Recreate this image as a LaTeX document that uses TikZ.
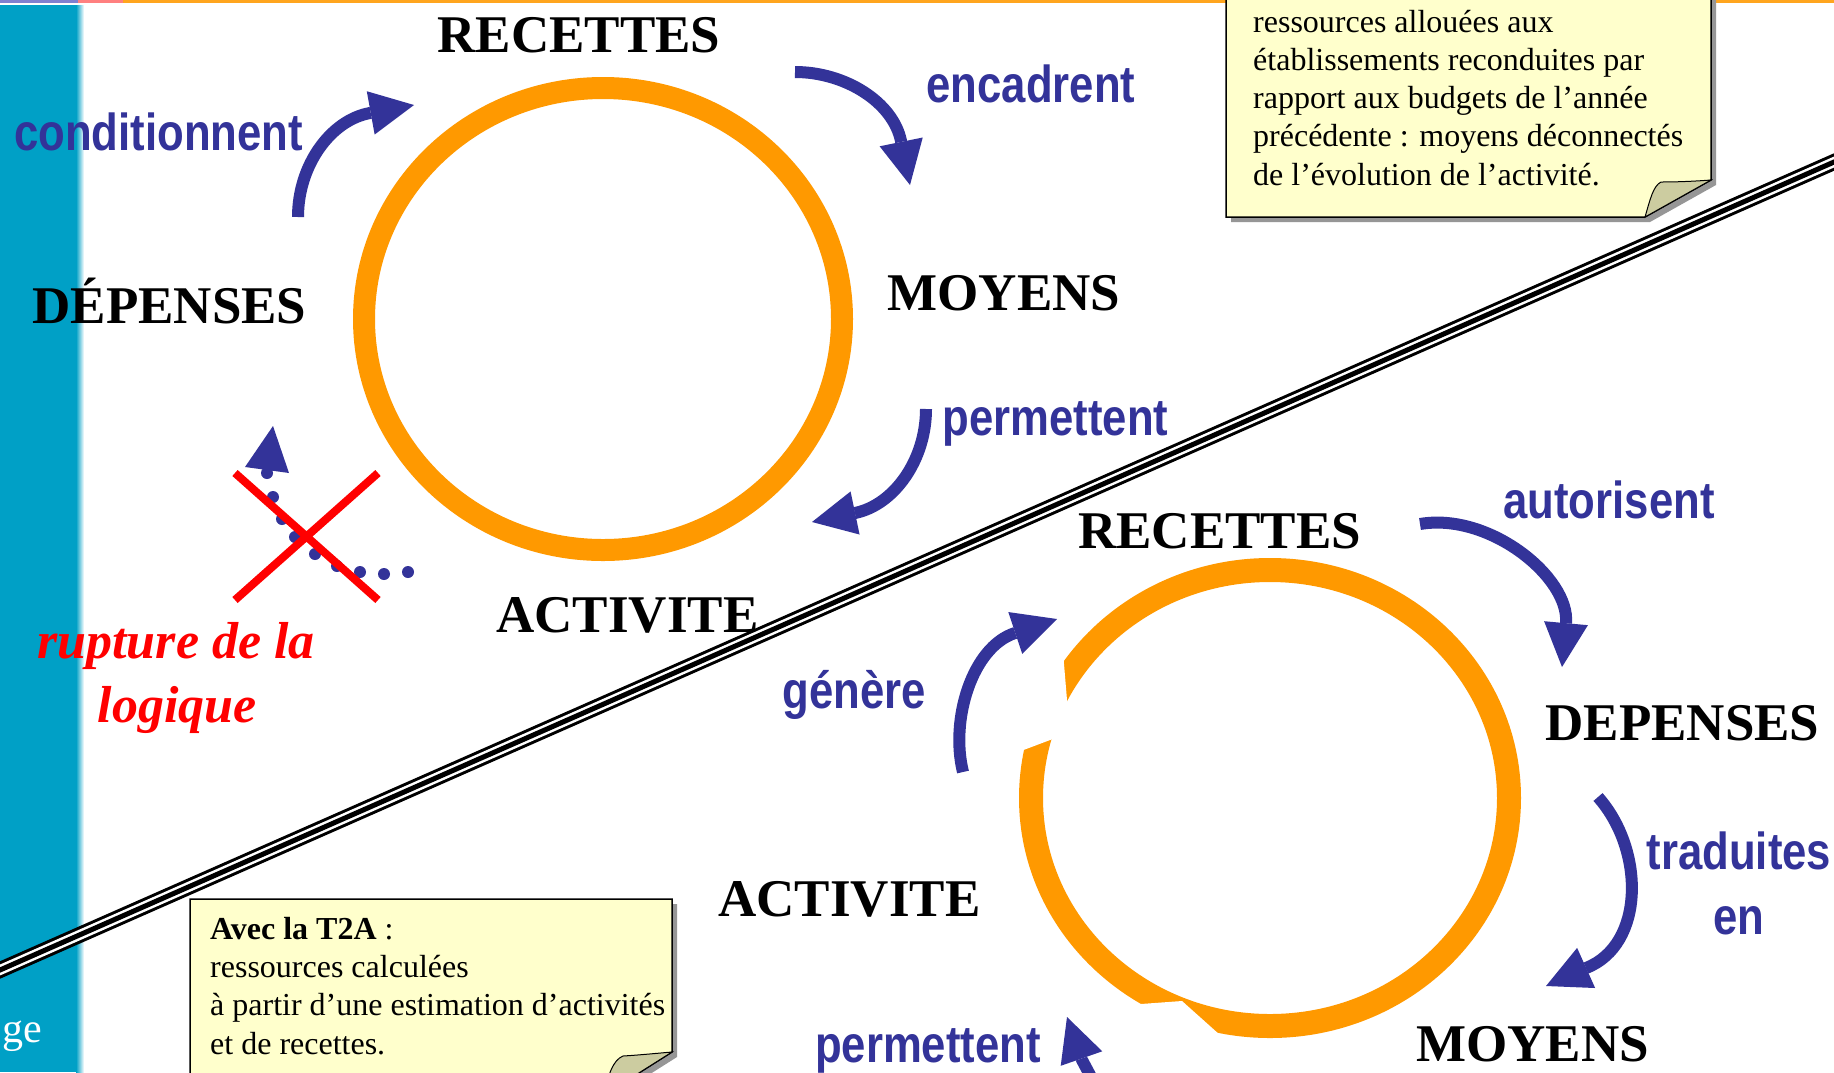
\documentclass[tikz,border=0pt]{standalone}
\usepackage{fontspec}
\setmainfont{Liberation Serif}
\setsansfont{Liberation Sans}
\usetikzlibrary{arrows.meta}
\definecolor{ringorange}{RGB}{255,153,0}
\definecolor{arrowblue}{RGB}{51,51,153}
\definecolor{barteal}{RGB}{0,160,198}
\definecolor{noteyellow}{RGB}{255,255,204}
\definecolor{flapolive}{RGB}{204,204,160}
\definecolor{shadowgray}{RGB}{150,150,150}
\definecolor{topblue}{RGB}{128,128,208}
\definecolor{topred}{RGB}{255,128,128}
\definecolor{toporange}{RGB}{255,165,30}
\newcommand{\bluesans}[1]{\scalebox{0.84}[1]{\sffamily\bfseries\fontsize{52}{60}\selectfont #1}}
\tikzset{
  keyword/.style={inner sep=0pt, anchor=base, font=\bfseries\fontsize{53}{60}\selectfont, text=black},
  verblabel/.style={inner sep=0pt, anchor=base, text=arrowblue},
  noteline/.style={inner sep=0pt, anchor=base west, font=\fontsize{32}{38}\selectfont, text=black},
  flow/.style={draw=arrowblue, line width=12pt, -{Triangle[length=44pt,width=44pt,line width=0pt]}},
  ringpath/.style={draw=ringorange},
  notebox/.style={fill=noteyellow, draw=black, line width=1.5pt, line join=miter},
  noteshadow/.style={fill=shadowgray},
  flapshape/.style={fill=flapolive, draw=black, line width=1pt},
  redtext/.style={inner sep=0pt, anchor=base, text=red, font=\bfseries\itshape\fontsize{52}{60}\selectfont},
  crossline/.style={draw=red, line width=8pt},
}
\begin{document}
\begin{tikzpicture}[x=1pt,y=-1pt]
\useasboundingbox (0,0) rectangle (1834,1072);
\clip (0,0) rectangle (1834,1072);
\fill[white] (0,0) rectangle (1834,1072);

% top strip and left bar
\fill[topblue] (0,0) rectangle (78,2.5);
\fill[topred] (78,0) rectangle (123,2.5);
\fill[toporange] (123,0) rectangle (1834,3);
\shade[left color=barteal, right color=white] (76,5) rectangle (84,1072);
\fill[barteal] (0,5) rectangle (77,1072);
\node[anchor=base west, inner sep=0pt, text=white, font=\fontsize{42}{50}\selectfont] (gefrag) at (2,1042) {ge};

% diagonal triple line
\coordinate (diagA) at (-20,978.8);
\coordinate (diagB) at (1854,153.2);
\draw[black, line width=16pt] (diagA) -- (diagB);
\draw[white, line width=10pt] (diagA) -- (diagB);
\draw[black, line width=5pt] (diagA) -- (diagB);

% rings
\draw[ringpath, line width=22pt] (603,319) ellipse [x radius=239pt, y radius=231pt];
\draw[ringpath, line width=24pt] (1270,798) ellipse [x radius=239pt, y radius=228pt];
% cuts in the lower ring
\fill[white] (1062,640) -- (995,690) -- (997,760) -- (1058,737) -- (1068,712) -- cycle;
\fill[white] (1141,1004) -- (1182,1001) -- (1220,1035) -- (1222,1052) -- (1141,1022) -- cycle;

% notes
\fill[noteshadow] (1231,-10) -- (1716,-10) -- (1716,185) -- (1650,222) -- (1231,222) -- cycle;
\draw[notebox] (1226,-10) -- (1711,-10) -- (1711,180) -- (1645,217) -- (1226,217) -- cycle;
\draw[flapshape] (1645,217) .. controls (1650,200) and (1653,186) .. (1661,182) .. controls (1680,182) and (1698,181) .. (1711,180) -- cycle;
\node[noteline] (n1a) at (1253,32) {ressources allouées aux};
\node[noteline] (n1b) at (1253,70.3) {établissements reconduites par};
\node[noteline] (n1c) at (1253,108.6) {rapport aux budgets de l’année};
\node[noteline] (n1d) at (1253,146.9) {précédente : moyens déconnectés};
\node[noteline] (n1e) at (1253,185.2) {de l’évolution de l’activité.};

\fill[noteshadow] (195,904) -- (677,904) -- (677,1057) -- (609,1100) -- (195,1100) -- cycle;
\draw[notebox] (190,899) -- (672,899) -- (672,1052) -- (604,1095) -- (190,1095) -- cycle;
\draw[flapshape] (604,1095) .. controls (608,1075) and (613,1060) .. (623,1056) .. controls (640,1055) and (660,1053) .. (672,1052) -- cycle;
\node[noteline] (n2a) at (210,939) {\textbf{Avec la T2A} :};
\node[noteline] (n2b) at (210,977.3) {ressources calculées};
\node[noteline] (n2c) at (210,1015.6) {à partir d’une estimation d’activités};
\node[noteline] (n2d) at (210,1054) {et de recettes.};

% keywords, top cycle
\node[keyword] (rec1) at (579,52) {RECETTES};
\node[keyword] (moy1) at (1004,310) {MOYENS};
\node[keyword] (dep1) at (169.5,323) {DÉPENSES};
\node[keyword] (act1) at (627.5,632) {ACTIVITE};
% keywords, bottom cycle
\node[keyword] (rec2) at (1219.5,548) {RECETTES};
\node[keyword] (dep2) at (1682.5,740) {DEPENSES};
\node[keyword] (moy2) at (1532.5,1061) {MOYENS};
\node[keyword] (act2) at (849.5,916) {ACTIVITE};

% verb labels
\node[verblabel] (lcond) at (158.5,150) {\bluesans{conditionnent}};
\node[verblabel] (lenc) at (1031,102) {\bluesans{encadrent}};
\node[verblabel] (lperm1) at (1055.5,435) {\bluesans{permettent}};
\node[verblabel] (laut) at (1609,518) {\bluesans{autorisent}};
\node[verblabel] (ltrad) at (1739,869) {\bluesans{traduites}};
\node[verblabel] (lenn) at (1739,934) {\bluesans{en}};
\node[verblabel] (lgen) at (854,708) {\bluesans{génère}};
\node[verblabel] (lperm2) at (928,1062) {\bluesans{permettent}};

% flow arrows
\coordinate (aS) at (298,217); \coordinate (aB) at (370,113); \coordinate (aT) at (414,105);
\draw[flow] (aS) .. controls (298,165) and (331,120) .. (aB) -- (aT);
\coordinate (bS) at (795,72); \coordinate (bB) at (901,141); \coordinate (bT) at (910,185);
\draw[flow] (bS) .. controls (845,72) and (893,102) .. (bB) -- (bT);
\coordinate (cS) at (926,409); \coordinate (cB) at (855,513); \coordinate (cT) at (812,522);
\draw[flow] (cS) .. controls (926,460) and (894,505) .. (cB) -- (cT);
\coordinate (dS) at (1420,524); \coordinate (dB) at (1566,623); \coordinate (dT) at (1562,667);
\draw[flow] (dS) .. controls (1490,512) and (1570,578) .. (dB) -- (dT);
\coordinate (eS) at (1598,797); \coordinate (eB) at (1586,968); \coordinate (eT) at (1546,986);
\draw[flow] (eS) .. controls (1645,850) and (1645,945) .. (eB) -- (eT);
\coordinate (fS) at (963,772); \coordinate (fB) at (1015,633); \coordinate (fT) at (1057,619);
\draw[flow] (fS) .. controls (950,720) and (972,647) .. (fB) -- (fT);
\coordinate (gS) at (1098,1090); \coordinate (gB) at (1082,1060); \coordinate (gT) at (1067,1017);
\draw[flow] (gS) -- (gB) -- (gT);

% broken dotted arrow with red cross
\foreach \px/\py in {408/572, 384/574, 360/572, 337/566, 315/554, 295/537, 282/519, 273/497, 267/473}
  \fill[arrowblue] (\px,\py) circle (6pt);
\fill[arrowblue] (245,467) -- (273,426) -- (289,473) -- cycle;
\coordinate (xa) at (235,473); \coordinate (xb) at (378,600);
\coordinate (xc) at (235,600); \coordinate (xd) at (378,473);
\draw[crossline] (xa) -- (xb);
\draw[crossline] (xc) -- (xd);
\node[redtext] (rupt1) at (176,658) {rupture de la};
\node[redtext] (rupt2) at (177,722) {logique};
\end{tikzpicture}
\end{document}
